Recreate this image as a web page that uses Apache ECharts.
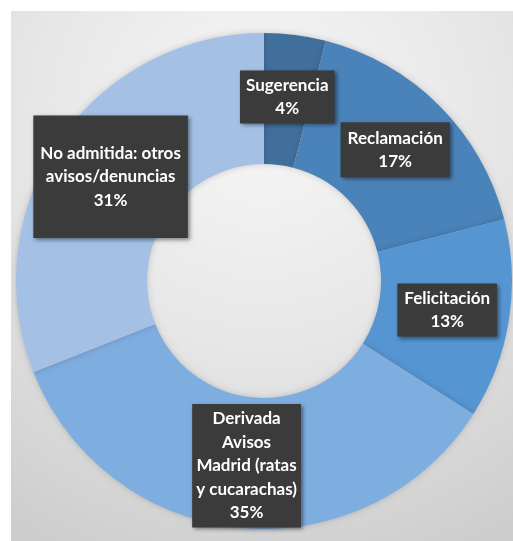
<!DOCTYPE html>
<html>
<head>
<meta charset="utf-8">
<script src="https://cdn.jsdelivr.net/npm/echarts@6/dist/echarts.min.js"></script>
<style>
  html, body { margin: 0; padding: 0; background: #fff; }
  #chart { width: 513px; height: 541px; }
</style>
</head>
<body>
<div id="chart"></div>
<script>
// categories and values (percent), clockwise from 12 o'clock
var categories = ['Sugerencia', 'Reclamación', 'Felicitación',
  'Derivada Avisos Madrid (ratas y cucarachas)', 'No admitida: otros avisos/denuncias'];
var values = [4, 17, 13, 35, 31];
// how each label is wrapped in the picture
var labelLines = [
  ['Sugerencia'],
  ['Reclamación'],
  ['Felicitación'],
  ['Derivada', 'Avisos', 'Madrid (ratas', 'y cucarachas)'],
  ['No admitida: otros', 'avisos/denuncias']
];

var colors = ['#416f9c', '#4a83ba', '#5595d2', '#7eade0', '#a4c1e5'];
// label box padding per slice (Excel resized some boxes)
var paddings = [[3, 6], [4, 7], [3, 7], [3, 4], [26, 7]];

var chart = echarts.init(document.getElementById('chart'));

var pieData = [];
for (var i = 0; i < categories.length; i++) {
  pieData.push({
    name: categories[i],
    value: values[i],
    itemStyle: { color: colors[i] },
    label: { padding: paddings[i] }
  });
}

var option = {
  animation: false,
  graphic: [{
    type: 'rect',
    silent: true,
    z: -10,
    shape: { x: 11, y: 11, width: 502, height: 530 },
    style: {
      fill: new echarts.graphic.RadialGradient(0.5, 0.2, 0.95, [
        { offset: 0, color: '#f7f7f7' },
        { offset: 0.5, color: '#e6e6e6' },
        { offset: 1, color: '#cdcdcd' }
      ])
    }
  }],
  series: [{
    type: 'pie',
    center: [264, 281],
    radius: [117, 248],
    startAngle: 90,
    clockwise: true,
    avoidLabelOverlap: false,
    itemStyle: {
      shadowBlur: 6,
      shadowColor: 'rgba(0,0,0,0.18)'
    },
    label: {
      show: true,
      position: 'inside',
      color: '#ffffff',
      fontFamily: 'Lato',
      fontWeight: 'bold',
      fontSize: 17,
      lineHeight: 23.5,
      align: 'center',
      backgroundColor: '#3b3b3b',
      shadowBlur: 4,
      shadowOffsetX: 2,
      shadowOffsetY: 2,
      shadowColor: 'rgba(0,0,0,0.45)',
      formatter: function (p) {
        return labelLines[p.dataIndex].join('\n') + '\n' + p.value + '%';
      }
    },
    labelLine: { show: false },
    emphasis: { disabled: true },
    data: pieData
  }]
};

chart.setOption(option);
</script>
</body>
</html>
